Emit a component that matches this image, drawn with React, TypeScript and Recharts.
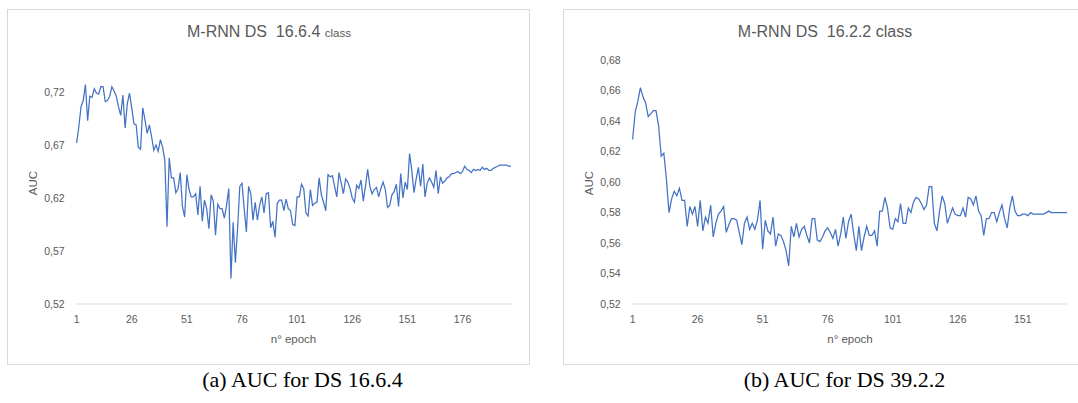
import React from 'react';
import { LineChart, Line, XAxis, YAxis } from 'recharts';

// AUC per epoch, DS 16.6.4 (198 epochs)
const aucA = [
  0.672, 0.687, 0.706, 0.712, 0.727, 0.693, 0.716, 0.715, 0.723, 0.719,
  0.718, 0.725, 0.725, 0.711, 0.712, 0.716, 0.725, 0.721, 0.716, 0.706,
  0.698, 0.717, 0.686, 0.709, 0.719, 0.705, 0.690, 0.689, 0.668, 0.666,
  0.705, 0.694, 0.681, 0.689, 0.678, 0.665, 0.670, 0.664, 0.675, 0.668,
  0.656, 0.593, 0.658, 0.639, 0.639, 0.625, 0.629, 0.644, 0.612, 0.602,
  0.642, 0.628, 0.621, 0.621, 0.624, 0.604, 0.631, 0.598, 0.618, 0.610,
  0.591, 0.623, 0.617, 0.585,
  0.614, 0.610, 0.610, 0.601, 0.613, 0.629, 0.544, 0.597, 0.559, 0.591,
  0.631, 0.634, 0.610, 0.588, 0.631, 0.624, 0.599, 0.616, 0.599, 0.613,
  0.621, 0.606, 0.624, 0.625, 0.592, 0.598, 0.583, 0.615, 0.618, 0.618,
  0.608, 0.619, 0.610, 0.608, 0.595, 0.594, 0.621, 0.621, 0.633, 0.629,
  0.606, 0.603, 0.628, 0.613, 0.615, 0.616, 0.639, 0.623, 0.616, 0.608,
  0.642, 0.640, 0.641, 0.631, 0.621, 0.644, 0.634, 0.624, 0.638, 0.635,
  0.629, 0.620, 0.616, 0.632,
  0.629, 0.637, 0.617, 0.631, 0.647, 0.631, 0.624, 0.628, 0.630, 0.621,
  0.629, 0.635, 0.628, 0.611, 0.613, 0.623, 0.626, 0.633, 0.612, 0.643,
  0.620, 0.635, 0.628, 0.662, 0.646, 0.625, 0.638, 0.649, 0.631, 0.652,
  0.621, 0.634, 0.639, 0.635, 0.630, 0.646, 0.624, 0.640, 0.634, 0.636,
  0.639, 0.640, 0.643, 0.643, 0.644, 0.645, 0.643, 0.645, 0.650, 0.647,
  0.646, 0.644, 0.647, 0.646, 0.647, 0.646, 0.649, 0.647, 0.648, 0.646,
  0.646, 0.648, 0.649, 0.650,
  0.651, 0.651, 0.651, 0.651, 0.650, 0.650,
];

// AUC per epoch, DS 16.2.2 (168 epochs)
const aucB = [
  0.628, 0.646, 0.653, 0.662, 0.656, 0.652, 0.643, 0.645, 0.647, 0.647,
  0.637, 0.617, 0.619, 0.602, 0.580, 0.589, 0.594, 0.591, 0.596, 0.588,
  0.588, 0.571, 0.584, 0.579, 0.584, 0.571, 0.588, 0.568, 0.577, 0.573,
  0.585, 0.564, 0.573, 0.579, 0.581, 0.584, 0.567, 0.572, 0.576, 0.576,
  0.575, 0.567, 0.559, 0.573, 0.577, 0.569, 0.573, 0.569, 0.575, 0.588,
  0.556, 0.575, 0.568, 0.566, 0.577, 0.558, 0.566, 0.565, 0.561, 0.555,
  0.545,
  0.571, 0.564, 0.573, 0.564, 0.569, 0.571, 0.565, 0.560, 0.576, 0.576,
  0.562, 0.561, 0.564, 0.568, 0.570, 0.567, 0.563, 0.569,
  0.558, 0.566, 0.577, 0.563, 0.574, 0.579, 0.566, 0.555, 0.571, 0.555,
  0.564, 0.571, 0.565, 0.565, 0.568, 0.558, 0.581, 0.581, 0.590, 0.583,
  0.570, 0.569, 0.576, 0.574, 0.586, 0.573, 0.573, 0.583, 0.580, 0.587,
  0.590, 0.589, 0.586, 0.582, 0.585, 0.597, 0.597, 0.573, 0.568, 0.581,
  0.591, 0.586, 0.573, 0.578, 0.583, 0.579, 0.578, 0.578, 0.583, 0.577,
  0.590, 0.589, 0.585, 0.591, 0.581, 0.578, 0.565, 0.576, 0.576, 0.580,
  0.580, 0.574, 0.580, 0.585, 0.576, 0.570, 0.583, 0.591, 0.581, 0.578,
  0.578, 0.579, 0.579, 0.578, 0.580, 0.579, 0.579, 0.579, 0.579, 0.579,
  0.580, 0.581, 0.580, 0.580,
  0.580, 0.580, 0.580, 0.580, 0.580,
];

const xTicksA = [1, 26, 51, 76, 101, 126, 151, 176];
const xTicksB = [1, 26, 51, 76, 101, 126, 151];
const yTicksA = [0.52, 0.57, 0.62, 0.67, 0.72];
const yTicksB = [0.52, 0.54, 0.56, 0.58, 0.6, 0.62, 0.64, 0.66, 0.68];

const SANS = '"Liberation Sans", Arial, sans-serif';
const GRAY = '#595959';

const toRows = (vals: number[]) => vals.map((auc, i) => ({ epoch: i + 1, auc }));
const fmt = (v: number) => v.toFixed(2).replace('.', ',');

interface PanelProps {
  left: number;
  values: number[];
  xTicks: number[];
  yTicks: number[];
  yMax: number;
  top: number;
}

const Panel: React.FC<PanelProps> = ({ left, values, xTicks, yTicks, yMax, top }) => (
  <div
    style={{
      position: 'absolute',
      left,
      top: 9,
      width: 523,
      height: 356,
      border: '1px solid #d9d9d9',
      boxSizing: 'border-box',
      background: '#fff',
    }}
  >
    <div style={{ position: 'absolute', left: 0, top: 0 }}>
      <LineChart
        width={521}
        height={354}
        data={toRows(values)}
        margin={{ top, right: 18, bottom: 30, left: 12.6 }}
      >
        <XAxis
          dataKey="epoch"
          type="number"
          domain={[1, values.length]}
          ticks={xTicks}
          interval={0}
          height={30}
          tickLine={false}
          axisLine={{ stroke: '#d9d9d9' }}
          tickMargin={6}
          tick={{ fontSize: 10.5, fill: GRAY, fontFamily: SANS }}
        />
        <YAxis
          type="number"
          domain={[0.52, yMax]}
          ticks={yTicks}
          interval={0}
          width={56}
          axisLine={false}
          tickLine={false}
          tickMargin={6}
          tickFormatter={fmt}
          tick={{ fontSize: 10.5, fill: GRAY, fontFamily: SANS }}
        />
        <Line
          type="linear"
          dataKey="auc"
          stroke="#4472C4"
          strokeWidth={1.25}
          dot={false}
          isAnimationActive={false}
        />
      </LineChart>
    </div>
  </div>
);

export default function App() {
  return (
    <div
      style={{
        position: 'absolute',
        left: 0,
        top: 0,
        width: 1078,
        height: 403,
        overflow: 'hidden',
        background: '#fff',
      }}
    >
      <Panel left={7} values={aucA} xTicks={xTicksA} yTicks={yTicksA} yMax={0.74} top={60.8} />
      <Panel left={563} values={aucB} xTicks={xTicksB} yTicks={yTicksB} yMax={0.68} top={50.3} />
      <svg
        width={1078}
        height={403}
        style={{ position: 'absolute', left: 0, top: 0, pointerEvents: 'none' }}
      >
        <g fontFamily={SANS} fill={GRAY}>
          <text x={269} y={37} textAnchor="middle" fontSize={16} style={{ whiteSpace: 'pre' }}>
            {'M-RNN DS  16.6.4 '}
            <tspan fontSize={11.5}>class</tspan>
          </text>
          <text x={825} y={37} textAnchor="middle" fontSize={16} style={{ whiteSpace: 'pre' }}>
            {'M-RNN DS  16.2.2 class'}
          </text>
          <text x={293.5} y={343} textAnchor="middle" fontSize={11.5}>n° epoch</text>
          <text x={850} y={343} textAnchor="middle" fontSize={11.5}>n° epoch</text>
          <text transform="translate(37,183) rotate(-90)" textAnchor="middle" fontSize={11.5}>AUC</text>
          <text transform="translate(592.5,183) rotate(-90)" textAnchor="middle" fontSize={11.5}>AUC</text>
        </g>
        <g fontFamily='"Liberation Serif", "Times New Roman", serif' fill="#000" fontSize={22}>
          <text x={302.5} y={387} textAnchor="middle">(a) AUC for DS 16.6.4</text>
          <text x={844.5} y={387} textAnchor="middle">(b) AUC for DS 39.2.2</text>
        </g>
      </svg>
    </div>
  );
}
